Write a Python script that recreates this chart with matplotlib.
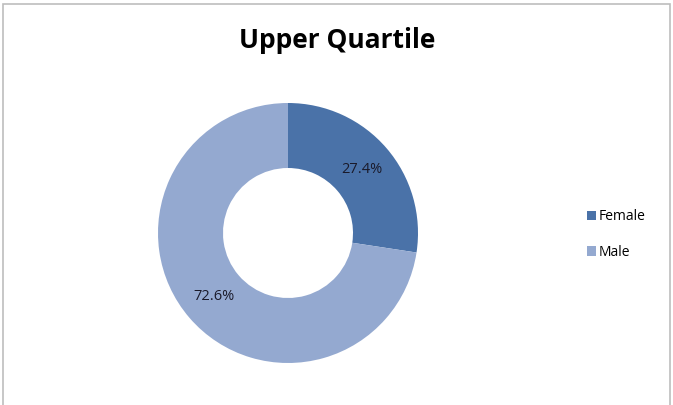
import matplotlib
matplotlib.use('Agg')
import matplotlib.pyplot as plt
from matplotlib.patches import Rectangle

# data
labels = ['Female', 'Male']
values = [27.4, 72.6]
colors = ['#4A72A8', '#94A9D0']

plt.rcParams['font.family'] = ['Open Sans', 'DejaVu Sans']

fig = plt.figure(figsize=(6.73, 4.05), dpi=100)
fig.patch.set_facecolor('white')

# light grey frame around the chart area
fig.patches.append(Rectangle((0.004, -0.01), 0.992, 1.0, transform=fig.transFigure,
                             fill=False, edgecolor='#BDBDBD', lw=1.2))

# donut centred at (288, 233) px, outer radius 130 px
W, H = 673, 405
cx, cy, r = 288, 233, 130
ax = fig.add_axes([(cx - r) / W, (H - cy - r) / H, 2 * r / W, 2 * r / H])

wedges, texts, autotexts = ax.pie(values, colors=colors, startangle=90, counterclock=False,
                                  radius=1.0, autopct='%.1f%%', pctdistance=0.75,
                                  wedgeprops=dict(width=0.5, edgecolor='none'),
                                  textprops=dict(fontsize=10.5, color='#1a1a2a'))
ax.set_xlim(-1, 1)
ax.set_ylim(-1, 1)
ax.set_aspect('equal')
ax.axis('off')

fig.text(337 / W, 1 - 40 / H, 'Upper Quartile', ha='center', va='center',
         fontsize=19, fontweight='bold', color='black')

leg = fig.legend(wedges, labels, loc='center left', bbox_to_anchor=(574 / W, 1 - 234.5 / H),
                 frameon=False, fontsize=10, handlelength=0.7, handleheight=0.7,
                 handletextpad=0.2, labelspacing=1.45)

fig.savefig('out.png', dpi=100, facecolor='white')
